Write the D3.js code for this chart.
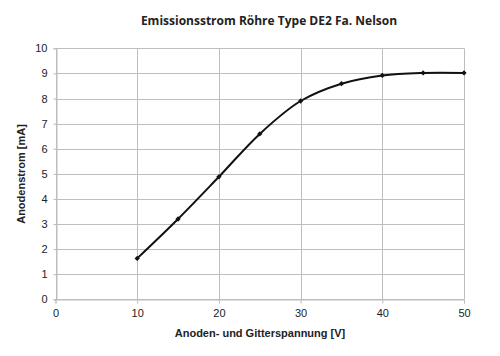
<!DOCTYPE html>
<html><head><meta charset="utf-8">
<script src="https://cdnjs.cloudflare.com/ajax/libs/d3/7.8.5/d3.min.js"></script>
<style>body{margin:0;background:#fff}svg{display:block}</style>
</head><body>
<script>
const voltages = [10, 15, 20, 25, 30, 35, 40, 45, 50];
const currents = [1.63, 3.2, 4.88, 6.59, 7.9, 8.59, 8.92, 9.02, 9.02];
const xTicks = [0, 10, 20, 30, 40, 50];
const yTicks = [0, 1, 2, 3, 4, 5, 6, 7, 8, 9, 10];
const title = "Emissionsstrom Röhre Type DE2 Fa. Nelson";
const xTitle = "Anoden- und Gitterspannung [V]";
const yTitle = "Anodenstrom [mA]";

const W = 500, H = 356;
const svg = d3.select("body").append("svg").attr("width", W).attr("height", H);
const x = d3.scaleLinear().domain([0, 50]).range([55.5, 464]);
const y = d3.scaleLinear().domain([0, 10]).range([299.3, 48.3]);
const grid = "#bdbdbd";

// grid
svg.append("g").selectAll("line").data(yTicks).join("line")
  .attr("x1", x(0)).attr("x2", x(50)).attr("y1", d => Math.round(y(d)) + 0.5).attr("y2", d => Math.round(y(d)) + 0.5)
  .attr("stroke", grid).attr("stroke-width", 1);
svg.append("g").selectAll("line").data(xTicks).join("line")
  .attr("x1", d => Math.round(x(d)) + 0.5).attr("x2", d => Math.round(x(d)) + 0.5)
  .attr("y1", y(10)).attr("y2", y(0)).attr("stroke", grid).attr("stroke-width", 1);

// axes
const ax = svg.append("g").attr("transform", `translate(0,${Math.round(y(0)) + 0.5})`)
  .call(d3.axisBottom(x).tickValues(xTicks).tickSize(4).tickPadding(6).tickFormat(d3.format("d")));
const ay = svg.append("g").attr("transform", `translate(${Math.round(x(0)) + 0.5},0)`)
  .call(d3.axisLeft(y).tickValues(yTicks).tickSize(3).tickPadding(6).tickFormat(d3.format("d")));
[ax, ay].forEach(g => {
  g.select(".domain").attr("stroke", grid);
  g.selectAll(".tick line").attr("stroke", grid);
  g.selectAll("text").attr("fill", "#222").style("font-family", "'Liberation Sans', Arial, sans-serif").style("font-size", "11px");
});

// line
const pts = voltages.map((v, i) => [v, currents[i]]);
svg.append("path").datum(pts)
  .attr("d", d3.line().x(d => x(d[0])).y(d => y(d[1])).curve(d3.curveCatmullRom.alpha(0.5)))
  .attr("fill", "none").attr("stroke", "#111").attr("stroke-width", 2);
svg.append("g").selectAll("path").data(pts).join("path")
  .attr("d", d3.symbol(d3.symbolSquare, 14))
  .attr("transform", d => `translate(${x(d[0])},${y(d[1])}) rotate(45)`)
  .attr("fill", "#111");

// titles
svg.append("text").attr("x", 269).attr("y", 25).attr("text-anchor", "middle")
  .style("font-family", "'Open Sans', 'Noto Sans', sans-serif").style("font-weight", "bold").style("font-size", "12px")
  .attr("fill", "#222").text(title);
svg.append("text").attr("x", 260).attr("y", 337).attr("text-anchor", "middle")
  .style("font-family", "'Liberation Sans', Arial, sans-serif").style("font-weight", "bold").style("font-size", "11px")
  .attr("fill", "#222").text(xTitle);
svg.append("text").attr("transform", "translate(25,174) rotate(-90)").attr("text-anchor", "middle")
  .style("font-family", "'Liberation Sans', Arial, sans-serif").style("font-weight", "bold").style("font-size", "11px")
  .attr("fill", "#222").text(yTitle);
</script>
</body></html>
